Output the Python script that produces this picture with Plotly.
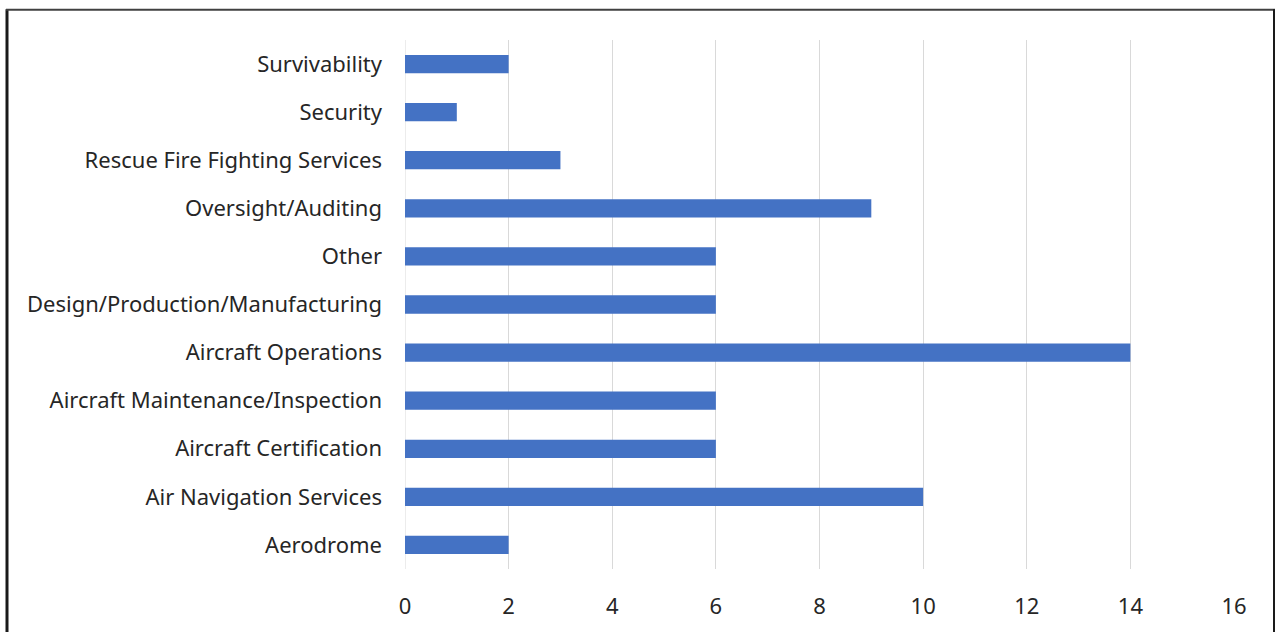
import plotly.graph_objects as go

categories = ["Aerodrome", "Air Navigation Services", "Aircraft Certification",
              "Aircraft Maintenance/Inspection", "Aircraft Operations",
              "Design/Production/Manufacturing", "Other", "Oversight/Auditing",
              "Rescue Fire Fighting Services", "Security", "Survivability"]
values = [2, 10, 6, 6, 14, 6, 6, 9, 3, 1, 2]
x_ticks = [0, 2, 4, 6, 8, 10, 12, 14, 16]

W, H = 1277, 632
L, R, T, B = 405, 43, 40, 59
pw, ph = W - L - R, H - T - B

def px(x):
    return (x - L) / pw

def py(y):
    return 1 - (y - T) / ph

fig = go.Figure(go.Bar(
    y=categories, x=values, orientation="h",
    marker=dict(color="#4472C4", line=dict(width=0)),
    width=0.38,
))

fig.update_layout(
    width=W, height=H,
    margin=dict(l=L, r=R, t=T, b=B),
    paper_bgcolor="white", plot_bgcolor="white",
    font=dict(family="Noto Sans, Open Sans, sans-serif", size=22, color="#262626"),
    showlegend=False,
    xaxis=dict(range=[0, 16], tickvals=x_ticks, showgrid=True, gridcolor="#d9d9d9",
               gridwidth=1, zeroline=False, showline=False, ticks="",
               ticklabelstandoff=22, fixedrange=True),
    yaxis=dict(categoryorder="array", categoryarray=categories, showgrid=False,
               zeroline=False, showline=False, ticks="", ticklabelstandoff=22,
               range=[-0.5, len(categories) - 0.5], fixedrange=True),
    shapes=[
        dict(type="line", xref="x", yref="paper", x0=0, x1=0, y0=0, y1=1, layer="below",
             line=dict(color="#d9d9d9", width=1)),
        dict(type="line", xref="paper", yref="paper", x0=px(7), x1=px(7), y0=py(9), y1=py(640),
             line=dict(color="#1a1a1a", width=3)),
        dict(type="line", xref="paper", yref="paper", x0=px(6), x1=px(1275), y0=py(9.5), y1=py(9.5),
             line=dict(color="#404040", width=2)),
        dict(type="line", xref="paper", yref="paper", x0=px(1274), x1=px(1274), y0=py(9), y1=py(640),
             line=dict(color="#1a1a1a", width=2)),
    ],
)

fig.write_html("out.html")
